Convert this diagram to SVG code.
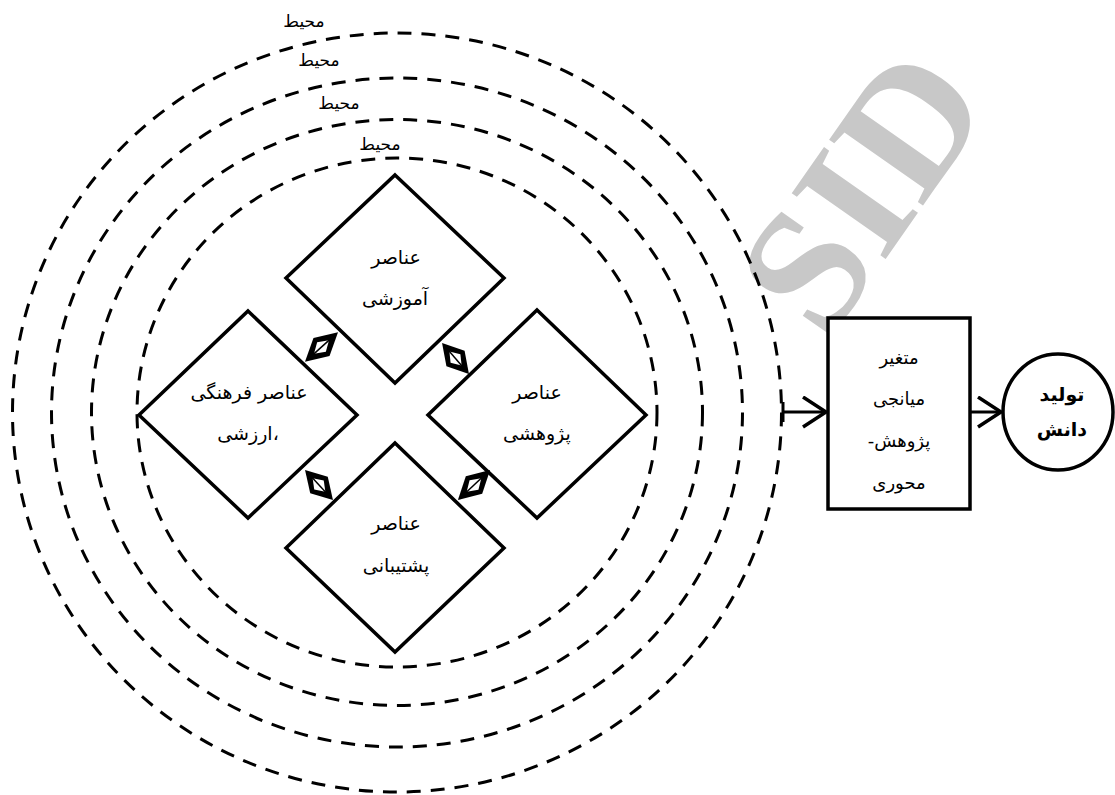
<svg xmlns="http://www.w3.org/2000/svg" width="1115" height="795" viewBox="0 0 1115 795">
<style>
.ring{fill:none;stroke:#000;stroke-width:3;stroke-dasharray:14 10}
.shape{fill:#fff;stroke:#000;stroke-width:3.5}
.ar{font-family:"DejaVu Sans",sans-serif;font-size:19px;fill:#000;text-anchor:middle}
.lbl{font-family:"DejaVu Sans",sans-serif;font-size:17px;fill:#000;text-anchor:middle}
.bx{font-family:"DejaVu Sans",sans-serif;font-size:18px;fill:#000;text-anchor:middle}
.bold{font-family:"DejaVu Sans",sans-serif;font-size:19px;font-weight:bold;fill:#000;text-anchor:middle}
.wm{font-family:"Liberation Serif",serif;font-size:175px;font-weight:bold;fill:#c8c8c8;text-anchor:middle}
.line{stroke:#000;stroke-width:3;fill:none}
</style>
<defs>
<marker id="chev" markerUnits="userSpaceOnUse" markerWidth="30" markerHeight="34" refX="25" refY="16" orient="auto">
<path d="M2,1 L25,16 L2,31" fill="none" stroke="#000" stroke-width="3.5"/>
</marker>
<g id="dbl">
<polygon points="-22,0 0,-12 22,0 0,12" fill="#000"/>
<polygon points="-10,0 0,-6.5 10,0 0,6.5" fill="#fff"/>
<line x1="-12" y1="0" x2="12" y2="0" stroke="#000" stroke-width="1.5"/>
</g>
</defs>
<rect width="1115" height="795" fill="#fff"/>
<text class="wm" x="910" y="224" transform="rotate(-55 910 224)">SID</text>
<g id="rings">
<ellipse class="ring" cx="397" cy="412.5" rx="384.5" ry="379.5"/>
<ellipse class="ring" cx="397" cy="412.5" rx="345.5" ry="334.5"/>
<ellipse class="ring" cx="397" cy="412.5" rx="305.5" ry="293"/>
<ellipse class="ring" cx="397" cy="412.5" rx="260" ry="254.5"/>
</g>
<g id="ring-labels">
<text class="lbl" x="304" y="27">محیط</text>
<text class="lbl" x="319" y="66">محیط</text>
<text class="lbl" x="339" y="109">محیط</text>
<text class="lbl" x="380" y="150">محیط</text>
</g>
<g id="node-amoozeshi">
<polygon class="shape" points="395,175 504,278 395,383 286,278"/>
<text class="ar" x="396" y="264">عناصر</text>
<text class="ar" x="395" y="305">آموزشی</text>
</g>
<g id="node-farhangi">
<polygon class="shape" points="248,311 357,415 248,518 139,415"/>
<text class="ar" x="249" y="399">عناصر فرهنگی</text>
<text class="ar" x="248" y="440">ارزشی،</text>
</g>
<g id="node-pazhooheshi">
<polygon class="shape" points="537,310 646,415 537,518 428,415"/>
<text class="ar" x="537" y="399">عناصر</text>
<text class="ar" x="537" y="440">پژوهشی</text>
</g>
<g id="node-poshtibani">
<polygon class="shape" points="395,443 504,548 395,652 286,548"/>
<text class="ar" x="396" y="530">عناصر</text>
<text class="ar" x="396" y="572">پشتیبانی</text>
</g>
<g id="node-motaghayer">
<rect class="shape" x="828" y="318" width="142" height="191"/>
<text class="bx" x="899" y="364">متغیر</text>
<text class="bx" x="899" y="405">میانجی</text>
<text class="bx" x="899" y="447">-پژوهش</text>
<text class="bx" x="899" y="489">محوری</text>
</g>
<g id="node-tolid">
<ellipse class="shape" cx="1058" cy="412" rx="55" ry="58"/>
<text class="bold" x="1062" y="401">تولید</text>
<text class="bold" x="1062" y="436">دانش</text>
</g>
<g id="connectors">
<use href="#dbl" transform="translate(321.5 347) rotate(-42) scale(1.01 1)"/>
<use href="#dbl" transform="translate(455.5 358.5) rotate(49) scale(0.93 1)"/>
<use href="#dbl" transform="translate(319 485) rotate(47) scale(0.93 1)"/>
<use href="#dbl" transform="translate(474 485) rotate(-43) scale(1 1)"/>
<line class="line" x1="783" y1="412" x2="826" y2="412" marker-end="url(#chev)"/>
<line class="line" x1="783" y1="402" x2="783" y2="422"/>
<line class="line" x1="970" y1="412" x2="1001" y2="412" marker-end="url(#chev)"/>
</g>
</svg>
